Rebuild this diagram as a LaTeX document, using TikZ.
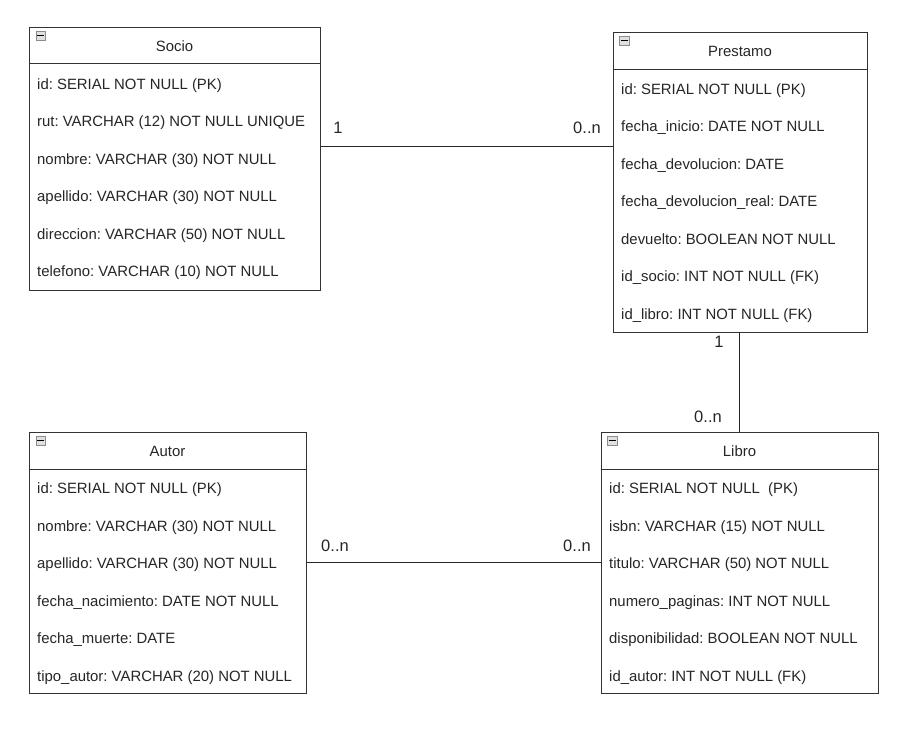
\documentclass[tikz,border=0pt]{standalone}
\usepackage{fontspec}
\setmainfont{Liberation Sans}
\frenchspacing
\begin{document}
\begin{tikzpicture}[x=1pt,y=-1pt,
  tablebox/.style={draw=black!80,line width=0.9pt,fill=white,inner sep=0pt,anchor=north west},
  sepline/.style={draw=black!80,line width=0.9pt},
  rowtext/.style={anchor=west,inner sep=0pt,text height=0.716em,text depth=0pt,yshift=-1.5pt,font=\fontsize{14.9}{17}\selectfont,text=black!85},
  headtext/.style={inner sep=0pt,text height=0.716em,text depth=0pt,yshift=-1.5pt,font=\fontsize{14.9}{17}\selectfont,text=black!85},
  multlabel/.style={inner sep=0pt,text height=0.716em,text depth=0pt,yshift=-1pt,font=\fontsize{16.5}{19}\selectfont,text=black!85},
  conn/.style={draw=black!85,line width=0.9pt},
  iconbox/.style={draw=black!45,fill=black!12,line width=0.6pt,minimum size=9.5pt,inner sep=0pt,anchor=north west}
]
\useasboundingbox (0,0) rectangle (915,729);

% ---------- Socio ----------
\node[tablebox,minimum width=291pt,minimum height=263pt] (socio) at (29,27) {};
\draw[sepline] (29,63) -- (320,63);
\node[iconbox] (socioicon) at (35.5,30.5) {};
\draw[line width=1.3pt] ([xshift=1.6pt]socioicon.west) -- ([xshift=-1.6pt]socioicon.east);
\node[headtext] (sociohead) at (174.5,46) {Socio};
\node[rowtext] (s1) at (37,84) {id: SERIAL NOT NULL (PK)};
\node[rowtext] (s2) at (37,121.5) {rut: VARCHAR (12) NOT NULL UNIQUE};
\node[rowtext] (s3) at (37,159) {nombre: VARCHAR (30) NOT NULL};
\node[rowtext] (s4) at (37,196.5) {apellido: VARCHAR (30) NOT NULL};
\node[rowtext] (s5) at (37,234) {direccion: VARCHAR (50) NOT NULL};
\node[rowtext] (s6) at (37,271.5) {telefono: VARCHAR (10) NOT NULL};

% ---------- Prestamo ----------
\node[tablebox,minimum width=254pt,minimum height=300pt] (prestamo) at (613,32) {};
\draw[sepline] (613,69) -- (867,69);
\node[iconbox] (presticon) at (619,35.5) {};
\draw[line width=1.3pt] ([xshift=1.6pt]presticon.west) -- ([xshift=-1.6pt]presticon.east);
\node[headtext] (presthead) at (740,51) {Prestamo};
\node[rowtext] (p1) at (621,89) {id: SERIAL NOT NULL (PK)};
\node[rowtext] (p2) at (621,126.5) {fecha\_inicio: DATE NOT NULL};
\node[rowtext] (p3) at (621,164) {fecha\_devolucion: DATE};
\node[rowtext] (p4) at (621,201.5) {fecha\_devolucion\_real: DATE};
\node[rowtext] (p5) at (621,239) {devuelto: BOOLEAN NOT NULL};
\node[rowtext] (p6) at (621,276.5) {id\_socio: INT NOT NULL (FK)};
\node[rowtext] (p7) at (621,314) {id\_libro: INT NOT NULL (FK)};

% ---------- Autor ----------
\node[tablebox,minimum width=277pt,minimum height=261pt] (autor) at (29,432) {};
\draw[sepline] (29,469) -- (306,469);
\node[iconbox] (autoricon) at (35.5,435.5) {};
\draw[line width=1.3pt] ([xshift=1.6pt]autoricon.west) -- ([xshift=-1.6pt]autoricon.east);
\node[headtext] (autorhead) at (167.5,451) {Autor};
\node[rowtext] (a1) at (37,488.5) {id: SERIAL NOT NULL (PK)};
\node[rowtext] (a2) at (37,526) {nombre: VARCHAR (30) NOT NULL};
\node[rowtext] (a3) at (37,563.5) {apellido: VARCHAR (30) NOT NULL};
\node[rowtext] (a4) at (37,601) {fecha\_nacimiento: DATE NOT NULL};
\node[rowtext] (a5) at (37,638.5) {fecha\_muerte: DATE};
\node[rowtext] (a6) at (37,676) {tipo\_autor: VARCHAR (20) NOT NULL};

% ---------- Libro ----------
\node[tablebox,minimum width=277pt,minimum height=261pt] (libro) at (601,432) {};
\draw[sepline] (601,469) -- (878,469);
\node[iconbox] (libroicon) at (607,435.5) {};
\draw[line width=1.3pt] ([xshift=1.6pt]libroicon.west) -- ([xshift=-1.6pt]libroicon.east);
\node[headtext] (librohead) at (739.5,451) {Libro};
\node[rowtext] (l1) at (609,488.5) {id: SERIAL NOT NULL\ \ (PK)};
\node[rowtext] (l2) at (609,526) {isbn: VARCHAR (15) NOT NULL};
\node[rowtext] (l3) at (609,563.5) {titulo: VARCHAR (50) NOT NULL};
\node[rowtext] (l4) at (609,601) {numero\_paginas: INT NOT NULL};
\node[rowtext] (l5) at (609,638.5) {disponibilidad: BOOLEAN NOT NULL};
\node[rowtext] (l6) at (609,676) {id\_autor: INT NOT NULL (FK)};

% ---------- Connectors ----------
\coordinate (c1) at (0,146);
\draw[conn] (socio.east |- c1) -- (prestamo.west |- c1);
\coordinate (c2) at (739.5,0);
\draw[conn] (prestamo.south -| c2) -- (libro.north -| c2);
\coordinate (c3) at (0,562);
\draw[conn] (autor.east |- c3) -- (libro.west |- c3);

% ---------- Multiplicities ----------
\node[multlabel] (m1) at (338,129) {1};
\node[multlabel] (m2) at (587,129) {0..n};
\node[multlabel] (m3) at (719,343) {1};
\node[multlabel] (m4) at (708,418) {0..n};
\node[multlabel] (m5) at (335,547) {0..n};
\node[multlabel] (m6) at (577,547) {0..n};
\end{tikzpicture}
\end{document}
